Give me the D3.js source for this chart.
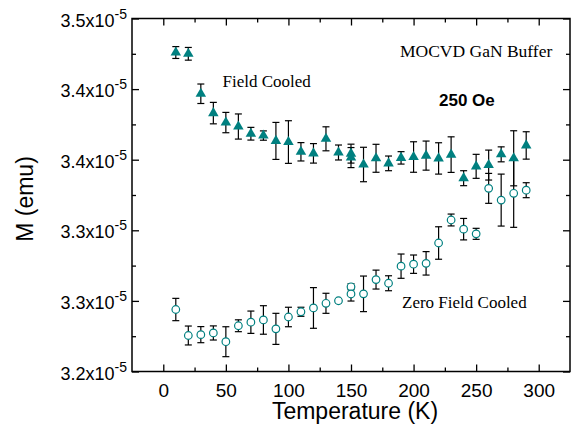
<!DOCTYPE html>
<html>
<head>
<meta charset="utf-8">
<script src="https://cdn.jsdelivr.net/npm/d3@7"></script>
<style>
  body { margin: 0; background: #fff; }
  svg { display: block; }
</style>
</head>
<body>
<div id="chart"></div>
<script>
// Temperatures (K); 150 K was measured twice
const temps = [10, 20, 30, 40, 50, 60, 70, 80, 90, 100, 110, 120, 130, 140, 150, 150,
  160, 170, 180, 190, 200, 210, 220, 230, 240, 250, 260, 270, 280, 290];

// Field cooled magnetisation, units of 1e-5 emu
const fcM = [3.4259, 3.4250, 3.3967, 3.3830, 3.3763, 3.3735, 3.3684, 3.3671, 3.3633, 3.3625,
  3.3556, 3.3545, 3.3648, 3.3551, 3.3543, 3.3515, 3.3466, 3.3510, 3.3474, 3.3513,
  3.3519, 3.3529, 3.3509, 3.3536, 3.3369, 3.3453, 3.3462, 3.3538, 3.3510, 3.3601];
const fcErr = [0.0042, 0.0045, 0.0069, 0.0076, 0.0072, 0.0089, 0.0045, 0.0033, 0.0131, 0.0151,
  0.0065, 0.0069, 0.0085, 0.0053, 0.0067, 0.0071, 0.0122, 0.0099, 0.0052, 0.0044,
  0.0108, 0.0103, 0.0111, 0.0126, 0.0053, 0.0085, 0.0106, 0.0053, 0.0195, 0.0097];

// Zero field cooled magnetisation, units of 1e-5 emu
const zfcM = [3.2439, 3.2255, 3.2261, 3.2273, 3.2211, 3.2324, 3.2349, 3.2365, 3.2302, 3.2386,
  3.2423, 3.2450, 3.2483, 3.2501, 3.2600, 3.2549, 3.2550, 3.2651, 3.2625, 3.2746,
  3.2760, 3.2766, 3.2910, 3.3073, 3.3008, 3.2975, 3.3297, 3.3214, 3.3262, 3.3284];
const zfcErr = [0.0079, 0.0067, 0.0057, 0.0050, 0.0106, 0.0042, 0.0079, 0.0101, 0.0110, 0.0069,
  0.0032, 0.0144, 0.0071, 0.0014, 0.0021, 0.0050, 0.0126, 0.0067, 0.0053, 0.0086,
  0.0065, 0.0083, 0.0115, 0.0042, 0.0076, 0.0039, 0.0106, 0.0184, 0.0241, 0.0053];

const xTicks = [0, 50, 100, 150, 200, 250, 300];
const xMinor = [25, 75, 125, 175, 225, 275];
const yTicks = [3.20, 3.25, 3.30, 3.35, 3.40, 3.45];
const yTickLabels = ["3.2", "3.3", "3.3", "3.4", "3.4", "3.5"];
const yMinor = [3.225, 3.275, 3.325, 3.375, 3.425];

const width = 572, height = 434;
const margins = { top: 18.5, right: 2, bottom: 62.5, left: 132 };
const innerWidth = width - margins.left - margins.right;
const innerHeight = height - margins.top - margins.bottom;
const teal = "#008080";

const svg = d3.select("#chart").append("svg")
  .attr("width", width)
  .attr("height", height);

const mainG = svg.append("g")
  .attr("transform", `translate(${margins.left},${margins.top})`);

const xScale = d3.scaleLinear().domain([-25, 325]).range([0, innerWidth]);
const yScale = d3.scaleLinear().domain([3.20, 3.45]).range([innerHeight, 0]);

// Axes: ticks point inward, mirrored on all four sides
const axisFont = "'Liberation Sans', Arial, sans-serif";
const majorLen = 7, minorLen = 4;

const xAxisG = mainG.append("g")
  .attr("transform", `translate(0,${innerHeight})`)
  .call(d3.axisBottom(xScale).tickValues(xTicks).tickSize(-majorLen).tickSizeOuter(0).tickPadding(12));
xAxisG.select(".domain").remove();
xAxisG.selectAll("text").attr("font-size", "19px").attr("font-family", axisFont).attr("fill", "#000");

// tick-only axes (no labels)
function ticksOnly(axis, transform) {
  const g = mainG.append("g").attr("transform", transform || null)
    .call(axis.tickSizeOuter(0));
  g.select(".domain").remove();
  g.selectAll("text").remove();
  return g;
}

ticksOnly(d3.axisBottom(xScale).tickValues(xMinor).tickSize(-minorLen), `translate(0,${innerHeight})`);
ticksOnly(d3.axisTop(xScale).tickValues(xTicks).tickSize(-majorLen));
ticksOnly(d3.axisTop(xScale).tickValues(xMinor).tickSize(-minorLen));
ticksOnly(d3.axisLeft(yScale).tickValues(yTicks).tickSize(-majorLen));
ticksOnly(d3.axisLeft(yScale).tickValues(yMinor).tickSize(-minorLen));
ticksOnly(d3.axisRight(yScale).tickValues(yTicks).tickSize(-majorLen), `translate(${innerWidth},0)`);
ticksOnly(d3.axisRight(yScale).tickValues(yMinor).tickSize(-minorLen), `translate(${innerWidth},0)`);

mainG.selectAll(".tick line").attr("stroke", "#000").attr("stroke-width", 1.3);

// y tick labels "3.2x10^-5"
mainG.append("g").selectAll("text")
  .data(yTicks)
  .join("text")
  .attr("x", -5)
  .attr("y", (d) => yScale(d) + 8)
  .attr("text-anchor", "end")
  .attr("font-family", axisFont)
  .attr("font-size", "18px")
  .attr("fill", "#000")
  .each(function (d, i) {
    const t = d3.select(this);
    t.append("tspan").text(yTickLabels[i] + "x10");
    t.append("tspan").attr("dy", -8).attr("font-size", "14px").text("-5");
  });

// Frame
mainG.append("rect")
  .attr("width", innerWidth)
  .attr("height", innerHeight)
  .attr("fill", "none")
  .attr("stroke", "#000")
  .attr("stroke-width", 1.5);

// Axis labels
mainG.append("text")
  .attr("x", 223)
  .attr("y", innerHeight + 47)
  .attr("text-anchor", "middle")
  .attr("font-family", axisFont)
  .attr("font-size", "23px")
  .text("Temperature (K)");

mainG.append("text")
  .attr("transform", `translate(${33 - margins.left},${199 - margins.top}) rotate(-90)`)
  .attr("text-anchor", "middle")
  .attr("font-family", axisFont)
  .attr("font-size", "23px")
  .text("M (emu)");

// Data
const fcData = temps.map((t, i) => ({ t, m: fcM[i], e: fcErr[i] }));
const zfcData = temps.map((t, i) => ({ t, m: zfcM[i], e: zfcErr[i] }));
const cap = 3.5;

function drawErrors(g, data) {
  const eg = g.selectAll("g").data(data).join("g").attr("stroke", "#000").attr("stroke-width", 1.2);
  eg.append("line")
    .attr("x1", (d) => xScale(d.t)).attr("x2", (d) => xScale(d.t))
    .attr("y1", (d) => yScale(d.m - d.e)).attr("y2", (d) => yScale(d.m + d.e));
  eg.append("line")
    .attr("x1", (d) => xScale(d.t) - cap).attr("x2", (d) => xScale(d.t) + cap)
    .attr("y1", (d) => yScale(d.m + d.e)).attr("y2", (d) => yScale(d.m + d.e));
  eg.append("line")
    .attr("x1", (d) => xScale(d.t) - cap).attr("x2", (d) => xScale(d.t) + cap)
    .attr("y1", (d) => yScale(d.m - d.e)).attr("y2", (d) => yScale(d.m - d.e));
}

drawErrors(mainG.append("g").attr("class", "fc-err"), fcData);
drawErrors(mainG.append("g").attr("class", "zfc-err"), zfcData);

mainG.append("g").attr("class", "fc")
  .selectAll("path")
  .data(fcData)
  .join("path")
  .attr("d", d3.symbol().type(d3.symbolTriangle).size(48))
  .attr("transform", (d) => `translate(${xScale(d.t)},${yScale(d.m)})`)
  .attr("fill", teal);

mainG.append("g").attr("class", "zfc")
  .selectAll("circle")
  .data(zfcData)
  .join("circle")
  .attr("cx", (d) => xScale(d.t))
  .attr("cy", (d) => yScale(d.m))
  .attr("r", 3.8)
  .attr("fill", "#fff")
  .attr("stroke", teal)
  .attr("stroke-width", 1.2);

// Annotations
const serif = "'Liberation Serif', 'Times New Roman', serif";
svg.append("text").attr("x", 400).attr("y", 56.5)
  .attr("font-family", serif).attr("font-size", "17.5px").text("MOCVD GaN Buffer");
svg.append("text").attr("x", 222.5).attr("y", 86.5)
  .attr("font-family", serif).attr("font-size", "17px").text("Field Cooled");
svg.append("text").attr("x", 402).attr("y", 307.5)
  .attr("font-family", serif).attr("font-size", "17px").text("Zero Field Cooled");
svg.append("text").attr("x", 439).attr("y", 106)
  .attr("font-family", axisFont).attr("font-weight", "bold").attr("font-size", "17px").text("250 Oe");
</script>
</body>
</html>
